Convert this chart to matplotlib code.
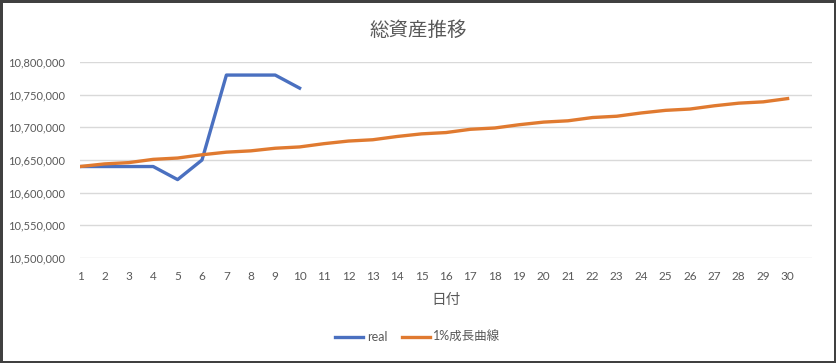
import matplotlib.pyplot as plt
from matplotlib.ticker import FuncFormatter

plt.rcParams['font.family'] = ['Lato', 'Noto Sans CJK JP', 'DejaVu Sans']

days = list(range(1, 31))
real_days = list(range(1, 11))
real = [10640000, 10640000, 10640000, 10640000, 10620000,
        10650000, 10780000, 10780000, 10780000, 10760000]
growth = [10640000, 10644000, 10646000, 10651000, 10653000, 10658000,
          10662000, 10664000, 10668000, 10670000, 10675000, 10679000,
          10681000, 10686000, 10690000, 10692000, 10697000, 10699000,
          10704000, 10708000, 10710000, 10715000, 10717000, 10722000,
          10726000, 10728000, 10733000, 10737000, 10739000, 10744000]

fig = plt.figure(figsize=(8.36, 3.63), dpi=100, edgecolor='#404040', linewidth=2.5)
ax = fig.add_axes([80/836, 1-258/363, (812-80)/836, (258-62)/363])

ax.plot(real_days, real, color='#4A70C0', lw=2.4, label='real')
ax.plot(days, growth, color='#E07A30', lw=2.4, label='1%成長曲線')

ax.set_xlim(1, 31)
ax.set_ylim(10500000, 10800000)
ax.set_yticks(range(10500000, 10800001, 50000))
ax.yaxis.set_major_formatter(FuncFormatter(lambda v, p: f'{int(v):,}'))
ax.set_xticks(days)
ax.grid(axis='y', color='#D9D9D9', lw=1)
ax.set_axisbelow(True)
for s in ax.spines.values():
    s.set_visible(False)
ax.tick_params(length=0, colors='#595959', labelsize=8.5)
ax.tick_params(axis='y', labelsize=8, pad=11)
ax.tick_params(axis='x', pad=9)

fig.suptitle('総資産推移', fontsize=14, color='#595959', x=0.5, y=1-30/363, va='center')
ax.set_xlabel('日付', fontsize=10.5, color='#595959', labelpad=8)

fig.legend(loc='center', bbox_to_anchor=(0.5, 1-337/363), ncol=2, frameon=False,
           fontsize=9, labelcolor='#595959', handlelength=2.2, columnspacing=1.2,
           handletextpad=0.3)

fig.savefig('out.png', dpi=100, edgecolor=fig.get_edgecolor())
